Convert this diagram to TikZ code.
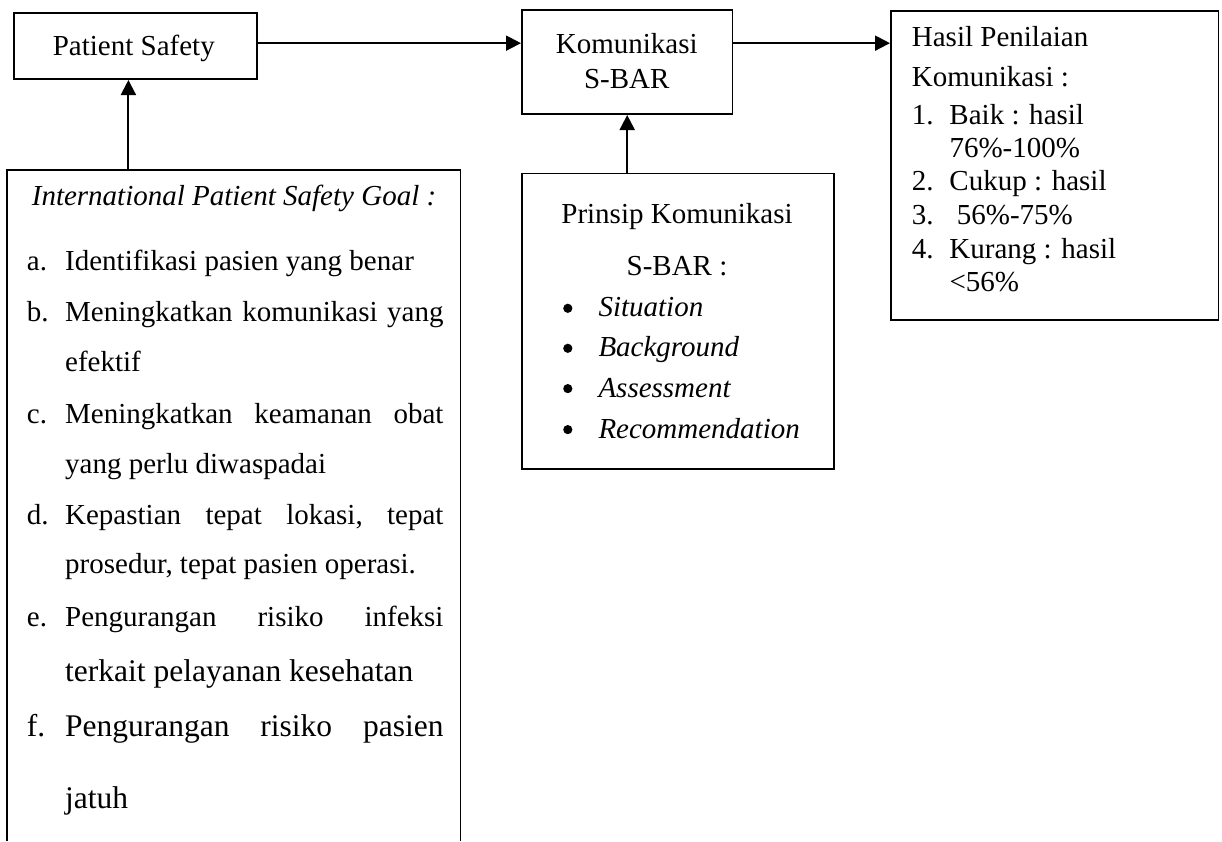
\documentclass[tikz,border=0pt]{standalone}
\usepackage{fontspec}
\setmainfont{Liberation Serif}
\usetikzlibrary{arrows.meta}
\begin{document}
\begin{tikzpicture}[x=1pt,y=-1pt,
  box/.style={draw, line width=1.7pt, inner sep=0pt, anchor=north west},
  txt/.style={inner sep=0pt, anchor=base west, font=\fontsize{29}{34}\selectfont},
  ctxt/.style={txt, anchor=base},
  bigtxt/.style={txt, font=\fontsize{31.5}{36}\selectfont},
  arr/.style={line width=2pt, -{Triangle[length=15pt,width=15pt]}},
  ]
\useasboundingbox (0,0) rectangle (1222,841);

% boxes
\node[box, minimum width=242.7pt, minimum height=66pt] (ps) at (13.3,12.3) {};
\node[box, minimum width=210.7pt, minimum height=104pt] (kom) at (521,9.3) {};
\node[box, minimum width=327.7pt, minimum height=309.3pt] (has) at (890,10) {};
\node[box, minimum width=312pt, minimum height=295.3pt] (pr) at (521,172.7) {};
\node[inner sep=0pt, anchor=north west, minimum width=452.7pt, minimum height=671pt] (ipsg) at (7.3,170) {};
\coordinate (bot) at (0,841);
\draw[line width=1.7pt] (ipsg.north west |- bot) -- (ipsg.north west) -- (ipsg.north east) -- (ipsg.north east |- bot);

% Patient Safety
\node[ctxt] (pst) at (133.8,55) {Patient Safety};

% Komunikasi S-BAR
\node[ctxt] (k1) at (626.7,53) {Komunikasi};
\node[ctxt] (k2) at (626.7,88.3) {S-BAR};

% Hasil Penilaian
\node[txt] (h1) at (911.7,46.7) {Hasil Penilaian};
\node[txt] (h2) at (911.7,86) {Komunikasi :};
\node[txt] (h3) at (911.7,124) {\hbox to 37.6pt{1.\hfil}Baik : hasil};
\node[txt] (h4) at (949.3,157.3) {76\%-100\%};
\node[txt] (h5) at (911.7,190.7) {\hbox to 37.6pt{2.\hfil}Cukup : hasil};
\node[txt] (h6) at (911.7,224) {\hbox to 45pt{3.\hfil}56\%-75\%};
\node[txt] (h7) at (911.7,258.3) {\hbox to 37.6pt{4.\hfil}Kurang : hasil};
\node[txt] (h8) at (949.3,291.7) {<56\%};

% Prinsip Komunikasi
\node[ctxt] (p1) at (677,223.3) {Prinsip Komunikasi};
\node[ctxt] (p2) at (677,275) {S-BAR :};
\node[txt] (p3) at (562,316.7) {\hbox to 36.3pt{\hfil}\textit{Situation}};
\node[txt] (p4) at (562,356.7) {\hbox to 36.3pt{\hfil}\textit{Background}};
\node[txt] (p5) at (562,397) {\hbox to 36.3pt{\hfil}\textit{Assessment}};
\node[txt] (p6) at (562,438) {\hbox to 36.3pt{\hfil}\textit{Recommendation}};
\foreach \n in {p3,p4,p5,p6}
  \fill ([shift={(5.8,-8.4)}]\n.base west) circle (4.6);

% International Patient Safety Goal
\node[ctxt] (g0) at (234,205) {\textit{International Patient Safety Goal :}};
\node[txt] (ga) at (26.7,270) {\hbox to 38.3pt{a.\hfil}Identifikasi pasien yang benar};
\node[txt] (gb) at (26.7,321.7) {\hbox to 416.6pt{\hbox to 38.3pt{b.\hfil}Meningkatkan\hfill komunikasi\hfill yang}};
\node[txt] (gb2) at (65,371.7) {efektif};
\node[txt] (gc) at (26.7,423) {\hbox to 416.6pt{\hbox to 38.3pt{c.\hfil}Meningkatkan\hfill keamanan\hfill obat}};
\node[txt] (gc2) at (65,473) {yang perlu diwaspadai};
\node[txt] (gd) at (26.7,524) {\hbox to 416.6pt{\hbox to 38.3pt{d.\hfil}Kepastian\hfill tepat\hfill lokasi,\hfill tepat}};
\node[txt] (gd2) at (65,573) {prosedur, tepat pasien operasi.};
\node[txt] (ge) at (26.7,626.7) {\hbox to 416.6pt{\hbox to 38.3pt{e.\hfil}Pengurangan\hfill risiko\hfill infeksi}};
\node[bigtxt] (ge2) at (65,681.7) {terkait pelayanan kesehatan};
\node[bigtxt] (gf) at (26.7,736.7) {\hbox to 416.6pt{\hbox to 38.3pt{f.\hfil}Pengurangan\hfill risiko\hfill pasien}};
\node[bigtxt] (gf2) at (65,808.3) {jatuh};

% connectors
\draw[arr] ([yshift=3pt]ps.east) -- ([yshift=3pt]ps.east -| kom.west);
\draw[arr] ([yshift=3pt]ps.east -| kom.east) -- ([yshift=3pt]ps.east -| has.west);
\draw[arr] ([xshift=-7.1pt]ps.south |- ipsg.north) -- ([xshift=-7.1pt]ps.south);
\draw[arr] (kom.south |- pr.north) -- (kom.south);
\end{tikzpicture}
\end{document}
